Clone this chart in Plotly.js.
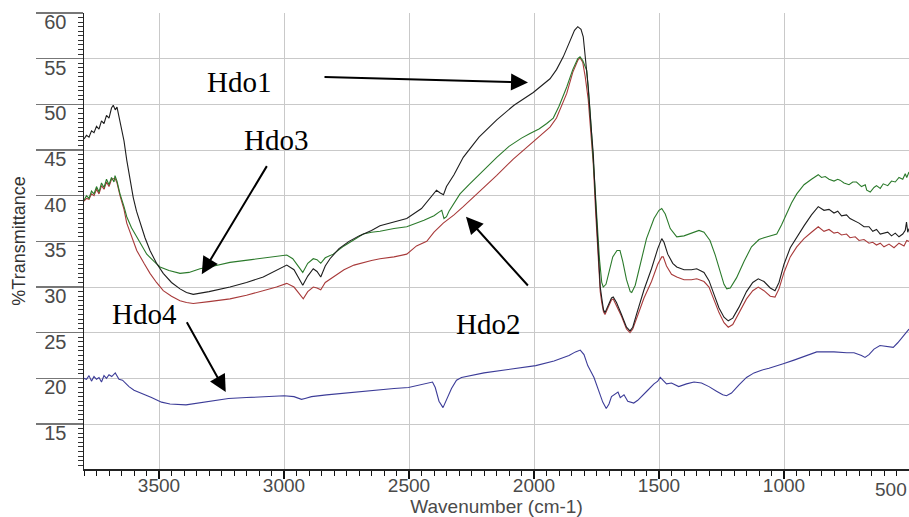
<!DOCTYPE html>
<html>
<head>
<meta charset="utf-8">
<script src="https://cdn.plot.ly/plotly-3.0.1.min.js"></script>
<style>html,body{margin:0;padding:0;background:#fff;overflow:hidden}#chart{width:909px;height:517px}</style>
</head>
<body>
<div id="chart"></div>
<script>
// ---- Data (wavenumber cm-1, %Transmittance) ----
const hdo1Wavenumber = [3800,3790,3780,3770,3760,3750,3740,3730,3720,3710,3700,3690,3683,3675,3668,3656,3640,3629,3615,3603,3590,3576,3556,3536,3510,3483,3450,3416,3390,3363,3300,3216,3150,3083,3030,2989,2960,2940,2925,2905,2883,2868,2853,2835,2816,2780,2740,2700,2683,2650,2616,2560,2509,2450,2410,2390,2375,2362,2350,2320,2283,2220,2149,2080,2003,1960,1936,1910,1883,1855,1838,1825,1812,1803,1793,1783,1773,1763,1753,1743,1735,1729,1722,1716,1705,1690,1683,1670,1650,1630,1616,1605,1590,1560,1530,1505,1489,1480,1465,1445,1429,1400,1370,1349,1320,1300,1280,1260,1240,1223,1205,1180,1150,1125,1103,1080,1055,1036,1020,1000,975,949,920,890,863,840,820,800,785,770,750,736,715,700,680,660,645,630,615,603,585,570,555,540,525,515,510,505,500];
const hdo1Transmittance = [46.2,46.6,46.4,47.1,46.9,47.6,47.3,48.2,47.9,48.8,48.5,49.6,49.9,49.4,49.7,48.2,46.0,43.9,41.7,39.8,38.3,37.0,35.4,34.0,32.6,31.5,30.5,29.8,29.4,29.2,29.5,30.0,30.5,31.1,31.8,32.4,31.9,31.0,30.2,31.2,32.0,31.7,31.1,32.3,33.1,34.2,35.0,35.6,35.8,36.2,36.7,37.1,37.5,38.6,39.9,40.6,40.3,40.1,41.0,42.3,44.2,46.4,48.3,49.9,51.3,52.2,52.8,53.8,55.2,57.0,58.1,58.5,58.2,57.4,55.0,51.9,48.0,44.6,39.0,33.6,30.0,28.8,27.5,27.2,27.9,28.8,28.9,28.3,27.0,25.6,25.2,25.6,27.0,29.7,32.0,34.2,35.3,34.9,33.6,32.6,32.2,31.9,31.9,32.0,31.6,30.7,29.2,27.7,26.7,26.3,26.6,27.8,29.5,30.5,30.9,30.6,29.9,29.6,30.5,32.5,34.3,35.5,36.7,37.9,38.8,38.4,38.5,38.1,38.3,37.8,37.9,37.5,37.2,37.0,36.6,36.6,36.1,36.3,35.8,35.9,36.0,35.6,35.9,35.5,35.8,36.2,37.1,36.0,36.4];

const hdo2Wavenumber = [3800,3790,3780,3770,3760,3750,3740,3730,3720,3710,3700,3690,3676,3668,3656,3640,3629,3610,3589,3560,3536,3510,3483,3450,3416,3390,3363,3300,3216,3150,3083,3030,2989,2960,2940,2923,2905,2883,2868,2853,2835,2803,2760,2720,2683,2650,2616,2560,2509,2470,2429,2400,2363,2320,2283,2236,2200,2150,2083,2040,2000,1960,1936,1910,1890,1869,1845,1825,1816,1805,1795,1783,1773,1763,1753,1743,1735,1729,1722,1716,1705,1690,1683,1670,1650,1630,1616,1605,1590,1560,1530,1505,1489,1483,1470,1450,1429,1400,1370,1349,1320,1300,1280,1260,1240,1223,1205,1180,1150,1125,1103,1080,1055,1036,1020,1000,975,949,920,890,863,840,820,800,785,770,750,736,715,700,680,660,645,630,615,600,580,560,540,520,509,500];
const hdo2Transmittance = [39.4,39.7,39.6,40.2,40.0,40.7,40.2,41.1,40.7,41.5,41.0,41.8,41.9,41.4,40.0,38.5,37.0,35.6,34.0,32.6,31.5,30.5,29.6,29.0,28.5,28.3,28.2,28.4,28.7,29.1,29.6,30.0,30.4,30.0,29.3,28.7,29.5,30.0,29.9,29.7,30.5,31.1,31.9,32.4,32.7,32.9,33.1,33.3,33.6,34.5,35.0,36.0,37.0,37.9,38.8,40.0,40.9,42.2,44.0,45.0,46.0,46.9,47.5,48.5,49.8,51.2,53.5,54.8,55.1,54.6,53.0,50.5,47.0,43.5,38.0,32.8,29.5,28.3,27.3,27.0,27.7,28.6,28.7,28.0,26.8,25.4,25.0,25.4,26.6,28.8,30.6,32.5,33.3,33.3,32.3,31.4,31.1,30.8,30.8,30.9,30.6,30.0,28.6,27.2,26.1,25.6,25.9,27.1,28.7,29.6,30.0,29.6,29.0,28.9,29.8,31.6,33.3,34.4,35.3,36.0,36.6,36.1,36.3,35.9,36.0,35.7,35.8,35.4,35.5,35.1,35.2,34.8,34.9,34.6,34.8,34.4,34.7,34.3,34.8,34.5,35.1,35.0];

const hdo3Wavenumber = [3800,3790,3780,3770,3760,3750,3740,3730,3720,3710,3700,3690,3680,3676,3668,3656,3640,3629,3610,3589,3570,3549,3520,3496,3460,3416,3380,3336,3280,3216,3130,3043,2989,2965,2945,2925,2905,2883,2868,2853,2835,2803,2760,2720,2683,2650,2616,2560,2509,2440,2400,2380,2369,2360,2350,2340,2320,2296,2260,2216,2149,2100,2050,2016,1980,1949,1923,1900,1869,1845,1825,1816,1805,1789,1775,1762,1749,1738,1729,1723,1712,1700,1685,1668,1656,1645,1630,1615,1609,1595,1575,1550,1520,1500,1489,1475,1455,1440,1429,1400,1370,1340,1320,1296,1275,1255,1240,1229,1215,1190,1160,1130,1100,1080,1050,1029,1010,990,970,949,920,890,863,850,835,820,800,785,776,760,740,725,710,690,675,669,655,640,630,615,603,585,570,555,540,525,515,509,500];
const hdo3Transmittance = [39.5,40.0,39.7,40.5,40.2,41.0,40.4,41.4,40.9,41.8,41.2,42.0,41.5,42.2,41.6,40.2,38.8,37.7,36.5,35.5,34.5,33.6,32.8,32.2,31.8,31.5,31.6,32.0,32.3,32.7,33.0,33.3,33.5,33.1,32.3,31.6,32.6,33.1,33.0,32.6,33.2,33.6,34.5,35.2,35.8,36.0,36.1,36.4,36.6,37.3,37.8,38.2,38.4,37.5,37.7,38.3,39.1,40.2,41.2,42.4,44.2,45.4,46.3,46.8,47.3,47.9,48.5,49.8,51.9,53.8,55.0,55.2,54.8,53.7,49.0,43.5,37.3,33.0,30.5,30.0,30.3,31.8,33.3,34.0,34.0,32.8,30.8,29.5,29.4,30.2,32.6,35.3,37.5,38.4,38.6,38.0,36.4,35.8,35.5,35.6,35.9,36.2,36.0,35.1,33.5,31.5,30.3,29.8,29.9,31.0,32.8,34.4,35.2,35.4,35.6,35.8,36.8,38.0,39.2,40.2,41.2,41.8,42.3,42.0,42.1,41.8,41.6,41.8,41.7,41.4,41.2,41.5,41.5,41.0,41.2,40.6,40.4,40.9,41.1,40.8,41.3,41.1,41.6,41.5,42.0,41.8,42.4,42.0,42.6,42.9];

const hdo4Wavenumber = [3800,3790,3780,3770,3760,3750,3740,3730,3720,3710,3700,3689,3675,3660,3646,3620,3600,3562,3530,3490,3456,3392,3340,3280,3222,3150,3080,3000,2960,2930,2916,2890,2830,2756,2650,2560,2502,2450,2420,2406,2395,2380,2364,2350,2330,2310,2290,2200,2100,1993,1920,1860,1834,1815,1800,1785,1760,1740,1725,1711,1700,1690,1675,1664,1655,1640,1625,1601,1585,1565,1545,1520,1505,1495,1485,1470,1450,1421,1390,1360,1330,1300,1270,1245,1230,1210,1180,1150,1120,1090,1060,1030,1003,960,920,869,848,800,749,720,690,676,660,640,616,590,563,545,525,509,500];
const hdo4Transmittance = [20.0,19.9,20.3,19.7,20.2,19.9,20.1,19.6,20.3,20.0,20.4,20.2,20.6,19.9,19.8,19.1,18.7,18.3,17.9,17.4,17.2,17.1,17.3,17.6,17.8,17.9,18.0,18.1,18.0,17.7,17.8,18.0,18.2,18.4,18.7,18.9,19.0,19.3,19.5,19.6,19.0,17.5,16.8,17.6,18.9,19.8,20.1,20.6,21.0,21.4,21.9,22.5,22.9,23.1,22.6,21.4,20.1,18.6,17.4,16.7,17.2,18.0,18.3,18.5,17.9,18.2,17.5,17.3,17.6,18.1,18.7,19.4,19.7,20.1,19.8,19.4,19.5,19.1,19.4,19.6,19.5,19.1,18.6,18.2,18.1,18.4,19.3,20.1,20.6,20.9,21.1,21.4,21.6,22.0,22.4,22.9,22.9,22.9,22.8,22.8,22.5,22.3,22.6,23.2,23.6,23.5,23.4,23.9,24.6,25.2,25.4];

const xTickValues = [3500,3000,2500,2000,1500,1000];
const yTickValues = [15,20,25,30,35,40,45,50,55,60];

// ---- Traces ----
const lineW = 1.1;
const traces = [
  {x: hdo2Wavenumber, y: hdo2Transmittance, name: 'Hdo2', mode: 'lines', line: {color: '#a83a3a', width: lineW}},
  {x: hdo3Wavenumber, y: hdo3Transmittance, name: 'Hdo3', mode: 'lines', line: {color: '#2b7a2b', width: lineW}},
  {x: hdo1Wavenumber, y: hdo1Transmittance, name: 'Hdo1', mode: 'lines', line: {color: '#1e1e1e', width: lineW}},
  {x: hdo4Wavenumber, y: hdo4Transmittance, name: 'Hdo4', mode: 'lines', line: {color: '#3c3c98', width: lineW}}
];

const labelFont = {family: '"Liberation Serif", "Times New Roman", serif', size: 29, color: '#000'};
const arrowBase = {showarrow: true, arrowhead: 2, arrowsize: 1.7, arrowwidth: 2, arrowcolor: '#000', axref: 'x', ayref: 'y', text: '', standoff: 0};

const layout = {
  width: 909, height: 517,
  margin: {l: 84, r: 0, t: 13, b: 48},
  paper_bgcolor: '#fff', plot_bgcolor: '#fff',
  showlegend: false,
  font: {family: '"Liberation Sans", Arial, sans-serif', color: '#4a4a4a'},
  xaxis: {
    range: [3800, 500],
    tickmode: 'array', tickvals: xTickValues,
    ticks: 'outside', ticklen: 8, tickcolor: '#111', tickwidth: 1.2,
    ticklabelstandoff: -9,
    minor: {dtick: 50, ticks: 'outside', ticklen: 5, tickcolor: '#111', tickwidth: 1, showgrid: false},
    showgrid: true, gridcolor: '#c9c9c9', gridwidth: 1,
    showline: true, linecolor: '#222', linewidth: 1.5,
    zeroline: false,
    tickfont: {size: 19, color: '#4a4a4a'},
    title: {text: 'Wavenumber (cm-1)', font: {size: 19, color: '#4a4a4a'}, standoff: 0}
  },
  yaxis: {
    range: [10.08, 60],
    tickmode: 'array', tickvals: yTickValues,
    ticks: 'outside', ticklen: 47, tickcolor: '#777', tickwidth: 1.2,
    ticklabelstandoff: -35, ticklabelshift: 9,
    minor: {dtick: 0.5, ticks: 'outside', ticklen: 5, tickcolor: '#333', tickwidth: 1, showgrid: false},
    showgrid: true, gridcolor: '#c9c9c9', gridwidth: 1,
    showline: true, linecolor: '#222', linewidth: 1.5,
    zeroline: false,
    tickfont: {size: 20, color: '#4a4a4a'},
    title: {text: '%Transmittance', font: {size: 18, color: '#333'}, standoff: 14}
  },
  annotations: [
    {x: 3180, y: 52.4, xref: 'x', yref: 'y', text: 'Hdo1', showarrow: false, font: labelFont},
    {x: 3032, y: 46.05, xref: 'x', yref: 'y', text: 'Hdo3', showarrow: false, font: labelFont},
    {x: 2184, y: 25.9, xref: 'x', yref: 'y', text: 'Hdo2', showarrow: false, font: labelFont},
    {x: 3560, y: 27.0, xref: 'x', yref: 'y', text: 'Hdo4', showarrow: false, font: labelFont},
    Object.assign({}, arrowBase, {x: 2024, y: 52.4, ax: 2844, ay: 53.0}),
    Object.assign({}, arrowBase, {x: 3329, y: 31.4, ax: 3065, ay: 43.4}),
    Object.assign({}, arrowBase, {x: 2272, y: 37.7, ax: 2019, ay: 30.0}),
    Object.assign({}, arrowBase, {x: 3233, y: 18.5, ax: 3392, ay: 26.3}),
    {x: 500, y: 0, xref: 'x', yref: 'paper', text: '500', showarrow: false, xanchor: 'right', yanchor: 'top', yshift: -8, font: {size: 19, color: '#4a4a4a'}}
  ]
};

Plotly.newPlot('chart', traces, layout, {staticPlot: true, displayModeBar: false});
</script>
</body>
</html>
